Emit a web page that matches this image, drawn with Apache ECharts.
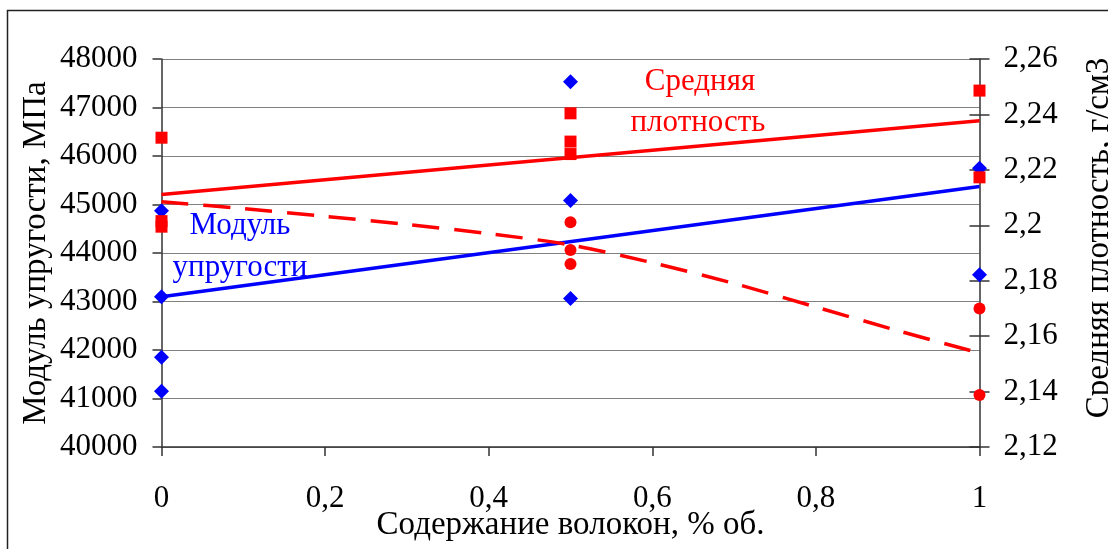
<!DOCTYPE html>
<html>
<head>
<meta charset="utf-8">
<script src="https://cdn.jsdelivr.net/npm/echarts@6/dist/echarts.min.js"></script>
<style>
  html, body { margin: 0; padding: 0; background: #ffffff; }
  #chart { width: 1108px; height: 549px; }
</style>
</head>
<body>
<div id="chart"></div>
<script>
// Fibre content (% vol.) and measured elastic modulus, MPa
const modulusX = [0, 0, 0, 0, 0.5, 0.5, 0.5, 1, 1];
const modulusY = [44870, 43100, 41850, 41150, 47530, 45080, 43060, 45750, 43550];

// Mean density, g/cm3 (squares)
const densitySqX = [0, 0, 0, 0.5, 0.5, 0.5, 1, 1];
const densitySqY = [2.2316, 2.2015, 2.1995, 2.2404, 2.2302, 2.2257, 2.2486, 2.2173];

// Mean density, g/cm3 (circles)
const densityCirX = [0.5, 0.5, 0.5, 1, 1];
const densityCirY = [2.2011, 2.1911, 2.1860, 2.1700, 2.1388];

// Trend lines
const modulusTrendX = [0, 1];
const modulusTrendY = [43100, 45370];
const densityTrendX = [0, 1];
const densityTrendY = [2.2111, 2.2377];
const densityCurveX = [0, 0.1, 0.2, 0.3, 0.4, 0.5, 0.6, 0.7, 0.8, 0.9, 1];
const densityCurveY = [2.2085, 2.2060, 2.2032, 2.2003, 2.1970, 2.1929, 2.1865, 2.1790, 2.1705, 2.1620, 2.1539];

// Axis ranges
const xRange = [0, 1, 0.2];
const modulusRange = [40000, 48000, 1000];
const densityRange = [2.12, 2.26, 0.02];

const FONT = '"Liberation Serif", Tinos, "DejaVu Serif", serif';
const RED = '#ff0000';
const BLUE = '#0000ff';
const AXIS = '#333333';

const zip = (xs, ys) => xs.map((x, i) => [x, ys[i]]);
const commaNum = v => String(parseFloat(Number(v).toFixed(4))).replace('.', ',');

const chart = echarts.init(document.getElementById('chart'), null, { renderer: 'canvas' });

const labelStyle = { color: '#000', fontFamily: FONT, fontSize: 31 };
const nameStyle = { color: '#000', fontFamily: FONT, fontSize: 33 };

chart.setOption({
  animation: false,
  backgroundColor: '#ffffff',
  textStyle: { fontFamily: FONT },
  grid: { left: 161.5, right: 128.5, top: 59, bottom: 102, containLabel: false, outerBoundsMode: 'none' },
  xAxis: {
    type: 'value',
    min: xRange[0], max: xRange[1], interval: xRange[2],
    name: 'Содержание волокон, % об.',
    nameLocation: 'middle',
    nameGap: 62,
    nameMoveOverlap: false,
    nameTextStyle: nameStyle,
    axisLine: { show: true, onZero: false, lineStyle: { color: AXIS, width: 1.5 } },
    axisTick: { show: true, length: 9, lineStyle: { color: AXIS, width: 1.5 } },
    axisLabel: Object.assign({ margin: 36, formatter: commaNum }, labelStyle),
    splitLine: { show: false }
  },
  yAxis: [
    {
      type: 'value', position: 'left',
      min: modulusRange[0], max: modulusRange[1], interval: modulusRange[2],
      name: 'Модуль упругости, МПа',
      nameLocation: 'middle',
      nameGap: 109,
      nameRotate: 90,
      nameMoveOverlap: false,
      nameTextStyle: nameStyle,
      axisLine: { show: true, lineStyle: { color: AXIS, width: 1.5 } },
      axisTick: { show: true, length: 9, lineStyle: { color: AXIS, width: 1.5 } },
      axisLabel: Object.assign({ margin: 24, formatter: v => String(v) }, labelStyle),
      splitLine: { show: true, lineStyle: { color: '#808080', width: 1.2 } }
    },
    {
      type: 'value', position: 'right',
      min: densityRange[0], max: densityRange[1], interval: densityRange[2],
      name: 'Средняя плотность, г/см3',
      nameLocation: 'middle',
      nameGap: 103,
      nameRotate: 90,
      nameMoveOverlap: false,
      nameTextStyle: Object.assign({ padding: [0, 0, 0, 30] }, nameStyle),
      axisLine: { show: true, lineStyle: { color: AXIS, width: 1.5 } },
      axisTick: { show: true, length: 10, lineStyle: { color: AXIS, width: 1.5 } },
      axisLabel: Object.assign({ margin: 24, formatter: commaNum }, labelStyle),
      splitLine: { show: false }
    },
    {
      // inner half of the cross ticks on the density axis
      type: 'value', position: 'right',
      min: densityRange[0], max: densityRange[1], interval: densityRange[2],
      axisLine: { show: false },
      axisTick: { show: true, inside: true, length: 10, lineStyle: { color: AXIS, width: 1.5 } },
      axisLabel: { show: false },
      splitLine: { show: false }
    }
  ],
  series: [
    {
      type: 'scatter', yAxisIndex: 0, symbol: 'diamond', symbolSize: 15,
      itemStyle: { color: BLUE, opacity: 1 }, data: zip(modulusX, modulusY), z: 3
    },
    {
      type: 'line', yAxisIndex: 0, showSymbol: false, symbol: 'none',
      lineStyle: { color: BLUE, width: 3.5 }, data: zip(modulusTrendX, modulusTrendY), z: 4
    },
    {
      type: 'scatter', yAxisIndex: 1, symbol: 'rect', symbolSize: 12,
      itemStyle: { color: RED, opacity: 1 }, data: zip(densitySqX, densitySqY), z: 5
    },
    {
      type: 'scatter', yAxisIndex: 1, symbol: 'circle', symbolSize: 12,
      itemStyle: { color: RED, opacity: 1 }, data: zip(densityCirX, densityCirY), z: 5
    },
    {
      type: 'line', yAxisIndex: 1, showSymbol: false, symbol: 'none',
      lineStyle: { color: RED, width: 3.5 }, data: zip(densityTrendX, densityTrendY), z: 6
    },
    {
      type: 'line', yAxisIndex: 1, showSymbol: false, symbol: 'none', smooth: 0.3,
      lineStyle: { color: RED, width: 3.5, type: [27, 15] },
      data: zip(densityCurveX, densityCurveY), z: 6
    }
  ],
  graphic: [
    {
      type: 'rect', z: -1, silent: true,
      shape: { x: 7.5, y: 10.5, width: 1200, height: 700 },
      style: { fill: 'none', stroke: '#222222', lineWidth: 1.5 }
    },
    { type: 'text', x: 700, y: 82, style: { text: 'Средняя', fill: RED, fontSize: 31, fontFamily: FONT, align: 'center', verticalAlign: 'middle' } },
    { type: 'text', x: 698, y: 123, style: { text: 'плотность', fill: RED, fontSize: 31, fontFamily: FONT, align: 'center', verticalAlign: 'middle' } },
    { type: 'text', x: 240, y: 226, style: { text: 'Модуль', fill: BLUE, fontSize: 31, fontFamily: FONT, align: 'center', verticalAlign: 'middle' } },
    { type: 'text', x: 240, y: 268, style: { text: 'упругости', fill: BLUE, fontSize: 31, fontFamily: FONT, align: 'center', verticalAlign: 'middle' } }
  ]
});
</script>
</body>
</html>
